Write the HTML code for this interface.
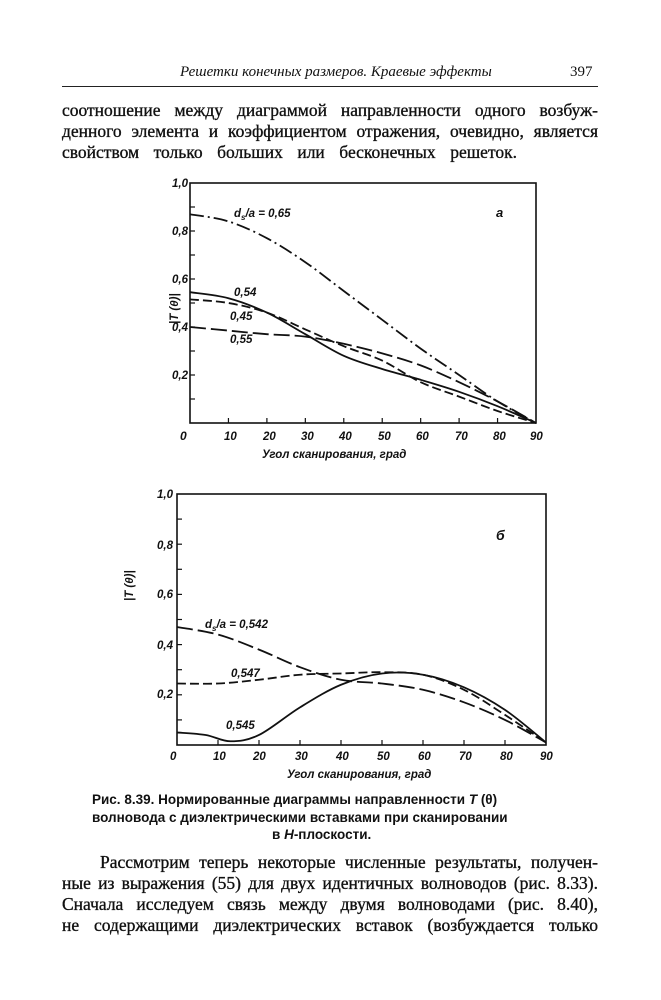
<!DOCTYPE html>
<html><head><meta charset="utf-8"><style>
html,body{margin:0;padding:0;background:#fff;}
body{width:661px;height:1000px;position:relative;overflow:hidden;font-family:"Liberation Serif",serif;color:#111;}
.t{position:absolute;white-space:nowrap;}
.j{position:absolute;left:62px;width:536px;text-align:justify;text-align-last:justify;font-size:17.5px;line-height:20px;-webkit-text-stroke:0.35px #111;}
.c{position:absolute;font-size:13.5px;font-weight:bold;font-family:"Liberation Sans",sans-serif;}
svg{position:absolute;left:0;top:0;}
svg text{font-family:"Liberation Sans",sans-serif;font-style:italic;font-size:11.5px;fill:#111;font-weight:bold;}
</style></head><body>
<div class="t" style="left:180px;top:64px;font-size:15px;font-style:italic;">Решетки конечных размеров. Краевые эффекты</div>
<div class="t" style="left:570px;top:64px;font-size:15px;">397</div>
<div style="position:absolute;left:62px;top:86px;width:536px;height:1px;background:#222"></div>
<div class="j" style="top:100px">соотношение между диаграммой направленности одного возбуж-</div>
<div class="j" style="top:121px">денного элемента и коэффициентом отражения, очевидно, является</div>
<div class="j" style="top:142px;width:455px">свойством только больших или бесконечных решеток.</div>

<svg width="661" height="1000" id="s">
<g stroke="#111" fill="none" stroke-width="1.6">
<rect x="190" y="183" width="346" height="240"/>
<rect x="177" y="494" width="369" height="251"/>
</g>
<g id="ticks" stroke="#111" stroke-width="1.2"></g>
<g id="curves" fill="none" stroke="#111" stroke-width="1.8"></g>
<text x="172" y="187">1,0</text><text x="172" y="235">0,8</text><text x="172" y="283">0,6</text><text x="172" y="331">0,4</text><text x="172" y="379">0,2</text>
<text x="180" y="440" style="font-size:12px">0</text><text x="224" y="440">10</text><text x="263" y="440">20</text><text x="301" y="440">30</text><text x="339" y="440">40</text><text x="378" y="440">50</text><text x="416" y="440">60</text><text x="455" y="440">70</text><text x="493" y="440">80</text><text x="530" y="440">90</text>
<text x="262" y="458">Угол сканирования, град</text>
<text x="160" y="330" transform="rotate(-90 166 318)">|T (θ)|</text>
<text x="234" y="217">d<tspan font-size="8" dy="3">s</tspan><tspan dy="-3">/a = 0,65</tspan></text>
<text x="496" y="217" style="font-size:13px">a</text>
<text x="234" y="296">0,54</text><text x="230" y="320">0,45</text><text x="230" y="343">0,55</text>

<text x="157" y="498">1,0</text><text x="157" y="549">0,8</text><text x="157" y="598">0,6</text><text x="157" y="649">0,4</text><text x="157" y="698">0,2</text>
<text x="170" y="760">0</text><text x="213" y="760">10</text><text x="253" y="760">20</text><text x="295" y="760">30</text><text x="336" y="760">40</text><text x="377" y="760">50</text><text x="418" y="760">60</text><text x="459" y="760">70</text><text x="500" y="760">80</text><text x="540" y="760">90</text>
<text x="287" y="778">Угол сканирования, град</text>
<text x="164" y="598" transform="rotate(-90 150 615)">|T (θ)|</text>
<text x="205" y="628">d<tspan font-size="8" dy="3">s</tspan><tspan dy="-3">/a = 0,542</tspan></text>
<text x="231" y="677">0,547</text><text x="226" y="729">0,545</text>
<text x="496" y="540" style="font-size:14px">б</text>
</svg>

<div class="c" style="left:92px;top:792px;">Рис. 8.39. Нормированные диаграммы направленности <i>T</i> (θ)</div>
<div class="c" style="left:92px;top:810px;">волновода с диэлектрическими вставками при сканировании</div>
<div class="c" style="left:272px;top:827px;">в <i>H</i>-плоскости.</div>

<div class="j" style="top:852px;left:100px;width:498px">Рассмотрим теперь некоторые численные результаты, получен-</div>
<div class="j" style="top:873px">ные из выражения (55) для двух идентичных волноводов (рис. 8.33).</div>
<div class="j" style="top:894px">Сначала исследуем связь между двумя волноводами (рис. 8.40),</div>
<div class="j" style="top:915px">не содержащими диэлектрических вставок (возбуждается только</div>

<script>
var NS="http://www.w3.org/2000/svg";
function el(p,t,a){var e=document.createElementNS(NS,t);for(var k in a)e.setAttribute(k,a[k]);document.getElementById(p).appendChild(e);}
function path(pts,X,Y,dash){
 var P=pts.map(function(p){return [X(p[0]),Y(p[1])];});
 var d="M"+P[0][0]+","+P[0][1];
 for(var i=0;i<P.length-1;i++){
  var p0=P[i-1]||P[i],p1=P[i],p2=P[i+1],p3=P[i+2]||p2;
  d+=" C"+(p1[0]+(p2[0]-p0[0])/6)+","+(p1[1]+(p2[1]-p0[1])/6)+" "+(p2[0]-(p3[0]-p1[0])/6)+","+(p2[1]-(p3[1]-p1[1])/6)+" "+p2[0]+","+p2[1];
 }
 var a={d:d};if(dash)a["stroke-dasharray"]=dash;el("curves","path",a);
}
var Xa=function(x){return 190+x*346/90},Ya=function(y){return 423-y*240};
var Xb=function(x){return 177+x*369/90},Yb=function(y){return 745-y*251};
for(var i=1;i<9;i++){el("ticks","line",{x1:Xa(i*10),x2:Xa(i*10),y1:423,y2:418});el("ticks","line",{x1:Xb(i*10),x2:Xb(i*10),y1:745,y2:740});}
for(var i=1;i<10;i++){el("ticks","line",{x1:190,x2:195,y1:Ya(i/10),y2:Ya(i/10)});el("ticks","line",{x1:177,x2:182,y1:Yb(i/10),y2:Yb(i/10)});}
path([[0,.87],[10,.84],[20,.77],[30,.67],[40,.55],[50,.43],[60,.31],[70,.2],[80,.09],[90,0]],Xa,Ya,"14,4,2,4");
path([[0,.545],[10,.52],[20,.46],[30,.37],[40,.28],[50,.225],[60,.18],[70,.13],[80,.07],[90,0]],Xa,Ya,null);
path([[0,.515],[10,.5],[20,.46],[30,.39],[40,.32],[50,.26],[60,.17],[70,.11],[80,.05],[90,0]],Xa,Ya,"9,4");
path([[0,.40],[10,.385],[20,.37],[30,.36],[40,.33],[50,.29],[60,.24],[70,.17],[80,.09],[90,0]],Xa,Ya,"16,5");
path([[0,.47],[10,.44],[20,.38],[30,.31],[40,.26],[50,.245],[60,.22],[70,.17],[80,.1],[90,.01]],Xb,Yb,"16,5");
path([[0,.245],[10,.245],[20,.26],[30,.28],[40,.285],[50,.29],[60,.28],[70,.22],[80,.12],[90,.01]],Xb,Yb,"9,4");
path([[0,.05],[7,.04],[13,.015],[20,.04],[30,.15],[40,.24],[50,.285],[60,.28],[70,.23],[80,.14],[90,.01]],Xb,Yb,null);
</script>
</body></html>
